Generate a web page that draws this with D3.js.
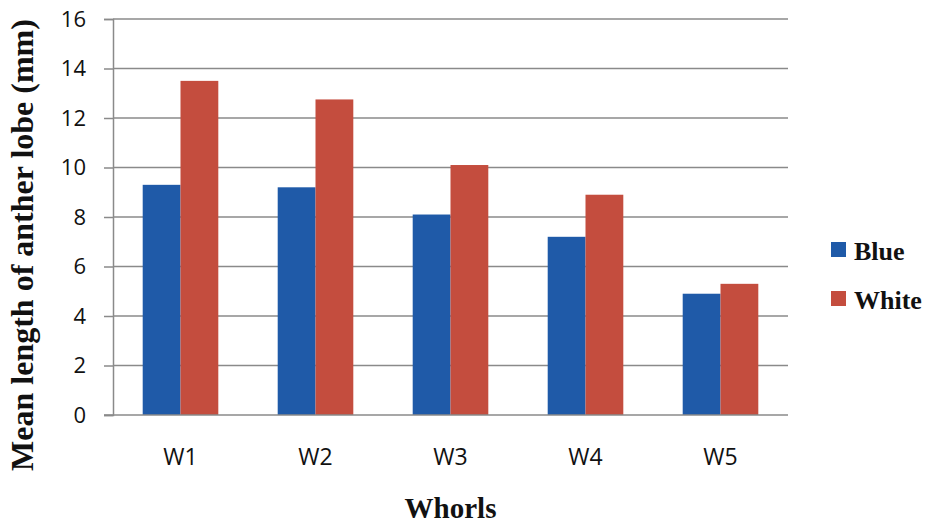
<!DOCTYPE html>
<html lang="en">
<head>
  <title>Anther lobe length</title>
  <script src="https://cdn.jsdelivr.net/npm/d3@7"></script>
  <style>
    body { margin: 0; background: #fff; }
  </style>
</head>
<body>
  <script>
    // data
    const whorls = ["W1", "W2", "W3", "W4", "W5"];
    const blue = [9.3, 9.2, 8.1, 7.2, 4.9];
    const white = [13.5, 12.75, 10.1, 8.9, 5.3];
    const yTicks = [0, 2, 4, 6, 8, 10, 12, 14, 16];
    const seriesNames = ["Blue", "White"];
    const colors = ["#1f5aa8", "#c44d3e"];

    const width = 940, height = 528;
    const margins = { left: 113, top: 19, right: 152, bottom: 113 };
    const innerW = width - margins.left - margins.right;
    const innerH = height - margins.top - margins.bottom;

    let svg = d3.select("body").append("svg")
      .attr("width", width)
      .attr("height", height);
    let container = svg.append("g")
      .attr("transform", `translate(${margins.left}, ${margins.top})`);

    // the scales
    let xScale = d3.scaleBand()
      .domain(whorls)
      .range([0, innerW])
      .paddingInner(0.44)
      .paddingOuter(0.22);
    let xSub = d3.scaleBand()
      .domain(seriesNames)
      .range([0, xScale.bandwidth()]);
    let yScale = d3.scaleLinear()
      .domain([0, 16])
      .range([innerH, 0]);

    // gridlines
    container.selectAll(".grid").data(yTicks.slice(1)).join("line")
      .attr("x1", 0).attr("x2", innerW)
      .attr("y1", d => yScale(d)).attr("y2", d => yScale(d))
      .attr("stroke", "#8a8a8a")
      .attr("stroke-width", 1.5);

    // bars
    let rows = whorls.map((w, i) => ({ whorl: w, values: [blue[i], white[i]] }));
    let groups = container.selectAll(".group").data(rows).join("g")
      .attr("transform", d => `translate(${xScale(d.whorl)}, 0)`);
    groups.selectAll("rect").data(d => d.values.map((v, j) => ({ v, name: seriesNames[j], c: colors[j] })))
      .join("rect")
      .attr("x", d => xSub(d.name))
      .attr("y", d => yScale(d.v))
      .attr("width", xSub.bandwidth())
      .attr("height", d => innerH - yScale(d.v))
      .attr("fill", d => d.c);

    // y-axis
    let yAxis = d3.axisLeft(yScale).tickValues(yTicks).tickSize(9).tickPadding(18);
    let yAxisG = container.append("g").call(yAxis);
    yAxisG.select(".domain").attr("stroke", "#8a8a8a").attr("stroke-width", 1.5);
    yAxisG.selectAll(".tick line").attr("stroke", "#8a8a8a").attr("stroke-width", 1.5);
    yAxisG.selectAll("text")
      .attr("font-family", "'Open Sans', sans-serif")
      .attr("font-size", 22)
      .attr("fill", "#111");

    // x-axis
    let xAxis = d3.axisBottom(xScale).tickSize(0);
    let xAxisG = container.append("g")
      .attr("transform", `translate(0, ${innerH})`)
      .call(xAxis);
    xAxisG.select(".domain").attr("stroke", "#8a8a8a").attr("stroke-width", 1.5)
      .attr("d", `M-9,0H${innerW}`);
    xAxisG.selectAll("text")
      .attr("y", 50)
      .attr("dy", 0)
      .attr("font-family", "'Open Sans', sans-serif")
      .attr("font-size", 23)
      .attr("fill", "#111");

    // x label
    svg.append("text").text("Whorls")
      .attr("x", margins.left + innerW / 2 + 0)
      .attr("y", 518)
      .attr("text-anchor", "middle")
      .attr("font-family", "'Liberation Serif', serif")
      .attr("font-weight", "bold")
      .attr("font-size", 29)
      .attr("fill", "#111");

    // y label
    svg.append("text").text("Mean length of anther lobe (mm)")
      .attr("transform", `translate(33, 245) rotate(-90)`)
      .attr("text-anchor", "middle")
      .attr("font-family", "'Liberation Serif', serif")
      .attr("font-weight", "bold")
      .attr("font-size", 32)
      .attr("fill", "#111");

    // legend
    let legend = svg.append("g").attr("transform", "translate(831, 242)");
    let items = legend.selectAll("g").data(seriesNames).join("g")
      .attr("transform", (d, i) => `translate(0, ${i * 49})`);
    items.append("rect")
      .attr("width", 15).attr("height", 15)
      .attr("fill", (d, i) => colors[i]);
    items.append("text").text(d => d)
      .attr("x", 23).attr("y", 18)
      .attr("font-family", "'Liberation Serif', serif")
      .attr("font-weight", "bold")
      .attr("font-size", 26)
      .attr("fill", "#111");
  </script>
</body>
</html>
